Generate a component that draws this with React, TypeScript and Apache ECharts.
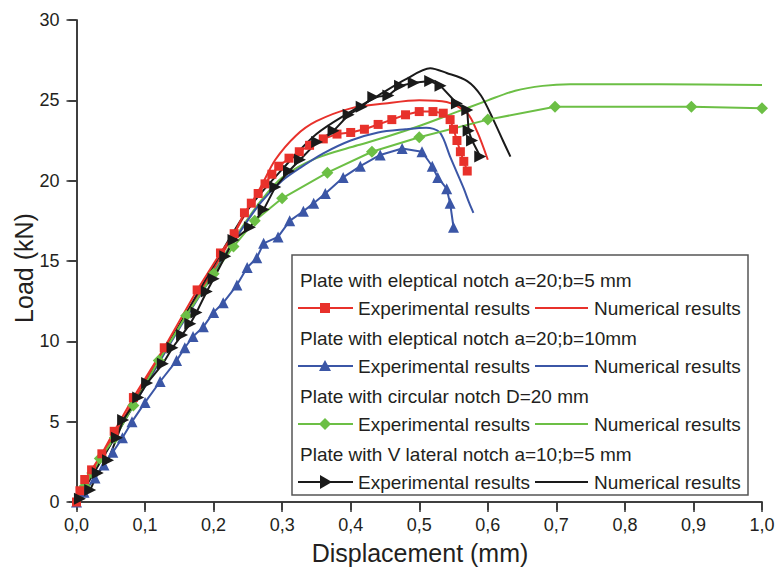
import { useEffect, useRef } from "react";
import * as echarts from "echarts";

const FONT = "'Liberation Sans', Arial, sans-serif";

const RED = "#e8312b";
const BLUE = "#3b56a6";
const GREEN = "#6cbf45";
const BLACK = "#1a1a1a";

// Plate with eleptical notch a=20;b=5 mm
const redExp: [number, number][] = [
  [0, 0], [0.005, 0.7], [0.012, 1.4], [0.022, 2.0], [0.037, 3.0], [0.055, 4.4], [0.083, 6.5],
  [0.128, 9.6], [0.176, 13.2], [0.21, 15.5], [0.23, 16.7], [0.245, 18.0], [0.255, 18.6],
  [0.265, 19.2], [0.275, 19.8], [0.285, 20.4], [0.295, 20.9], [0.31, 21.4], [0.325, 21.8],
  [0.34, 22.2], [0.36, 22.6], [0.38, 22.9], [0.4, 23.0], [0.42, 23.2], [0.44, 23.5],
  [0.46, 23.8], [0.48, 24.1], [0.5, 24.3], [0.52, 24.3], [0.535, 24.2], [0.545, 23.8],
  [0.55, 23.2], [0.555, 22.5], [0.56, 21.8], [0.565, 21.2], [0.57, 20.6],
];
const redNum: [number, number][] = [
  [0, 0], [0.05, 3.8], [0.1, 7.5], [0.15, 11.0], [0.2, 14.5], [0.25, 18.2], [0.27, 19.7],
  [0.29, 21.3], [0.32, 22.8], [0.35, 23.7], [0.4, 24.5], [0.45, 24.8], [0.5, 25.0],
  [0.54, 24.9], [0.57, 24.2], [0.585, 23.0], [0.6, 21.3],
];

// Plate with eleptical notch a=20;b=10mm
const blueExp: [number, number][] = [
  [0, 0], [0.011, 0.6], [0.027, 1.5], [0.04, 2.3], [0.053, 3.1], [0.067, 4.0], [0.081, 5.0],
  [0.1, 6.2], [0.122, 7.5], [0.146, 8.8], [0.158, 9.6], [0.17, 10.3], [0.185, 10.9],
  [0.2, 11.8], [0.214, 12.4], [0.234, 13.5], [0.249, 14.6], [0.263, 15.2], [0.273, 16.1],
  [0.294, 16.5], [0.311, 17.5], [0.331, 18.1], [0.346, 18.6], [0.363, 19.2], [0.389, 20.2],
  [0.414, 20.9], [0.443, 21.6], [0.475, 22.0], [0.504, 21.8], [0.519, 20.9], [0.527, 20.2],
  [0.54, 19.5], [0.545, 18.6], [0.55, 17.1],
];
const blueNum: [number, number][] = [
  [0, 0], [0.05, 3.6], [0.1, 7.2], [0.15, 10.8], [0.2, 14.2], [0.24, 16.9], [0.27, 18.7],
  [0.3, 20.0], [0.33, 20.9], [0.36, 21.7], [0.4, 22.5], [0.44, 23.0], [0.48, 23.2],
  [0.51, 23.3], [0.53, 23.0], [0.545, 21.5], [0.555, 20.5], [0.565, 19.5], [0.573, 18.6],
  [0.579, 18.0],
];

// Plate with circular notch D=20 mm
const greenExp: [number, number][] = [
  [0.005, 0.4], [0.012, 1.0], [0.023, 1.8], [0.034, 2.7], [0.056, 4.0], [0.083, 6.0],
  [0.12, 8.8], [0.16, 11.6], [0.2, 14.2], [0.229, 15.9], [0.26, 17.5], [0.3, 18.9],
  [0.366, 20.5], [0.431, 21.8], [0.5, 22.7], [0.6, 23.8], [0.698, 24.6], [0.897, 24.6],
  [1.0, 24.5],
];
const greenNum: [number, number][] = [
  [0, 0], [0.05, 3.8], [0.1, 7.3], [0.15, 10.9], [0.2, 14.3], [0.24, 17.0], [0.27, 18.8],
  [0.3, 20.2], [0.35, 21.4], [0.41, 22.2], [0.45, 22.7], [0.5, 23.4], [0.55, 24.2],
  [0.6, 25.0], [0.64, 25.6], [0.68, 25.9], [0.72, 26.0], [0.85, 26.0], [1.0, 25.95],
];

// Plate with V lateral notch a=10;b=5 mm
const blackExp: [number, number][] = [
  [0.005, 0.2], [0.02, 0.75], [0.031, 1.8], [0.046, 2.6], [0.059, 4.0], [0.068, 5.1],
  [0.09, 6.5], [0.103, 7.4], [0.126, 8.6], [0.14, 9.6], [0.154, 10.4], [0.166, 11.1],
  [0.175, 11.8], [0.19, 13.1], [0.2, 13.9], [0.217, 15.3], [0.229, 16.3], [0.253, 17.1],
  [0.273, 18.2], [0.29, 19.6], [0.31, 20.6], [0.326, 21.3], [0.351, 22.4], [0.375, 23.1],
  [0.397, 24.1], [0.416, 24.6], [0.433, 25.2], [0.455, 25.3], [0.472, 25.9], [0.492, 26.1],
  [0.516, 26.2], [0.531, 25.9], [0.555, 24.8], [0.57, 24.4], [0.572, 23.1], [0.577, 22.5],
  [0.589, 21.5],
];
const blackNum: [number, number][] = [
  [0, 0], [0.05, 3.6], [0.1, 7.3], [0.15, 11.0], [0.2, 14.7], [0.25, 18.2], [0.3, 20.7],
  [0.35, 22.9], [0.4, 24.3], [0.44, 25.3], [0.48, 26.3], [0.516, 27.0], [0.54, 26.7],
  [0.57, 26.2], [0.59, 25.3], [0.608, 23.8], [0.622, 22.5], [0.633, 21.5],
];

const groupTitles = [
  "Plate with eleptical notch a=20;b=5 mm",
  "Plate with eleptical notch a=20;b=10mm",
  "Plate with circular notch D=20 mm",
  "Plate with V lateral notch a=10;b=5 mm",
];
const entryLabels = ["Experimental results", "Numerical results"];
const groupColors = [RED, BLUE, GREEN, BLACK];
const groupMarkers = ["square", "triangle", "diamond", "arrowRight"];

const xLabel = "Displacement (mm)";
const yLabel = "Load (kN)";

function markerGraphic(kind: string, cx: number, cy: number, color: string) {
  const style = { fill: color };
  if (kind === "square") {
    return { type: "rect", shape: { x: cx - 5, y: cy - 5, width: 10, height: 10 }, style };
  }
  if (kind === "triangle") {
    return { type: "polygon", shape: { points: [[cx, cy - 6], [cx + 6, cy + 5], [cx - 6, cy + 5]] }, style };
  }
  if (kind === "diamond") {
    return { type: "polygon", shape: { points: [[cx, cy - 6], [cx + 6, cy], [cx, cy + 6], [cx - 6, cy]] }, style };
  }
  return { type: "polygon", shape: { points: [[cx - 5, cy - 7], [cx + 7, cy], [cx - 5, cy + 7]] }, style };
}

function buildGraphics() {
  const children: any[] = [];
  const left = 292;
  const top = 255;
  const textFont = `19px ${FONT}`;
  children.push({
    type: "rect",
    shape: { x: left, y: top, width: 456, height: 240 },
    style: { fill: "#fff", stroke: "#555", lineWidth: 1.5 },
  });
  groupTitles.forEach((title, i) => {
    const hy = 280 + i * 58;
    const ey = hy + 28;
    const color = groupColors[i];
    children.push({
      type: "text",
      style: { text: title, x: 300, y: hy, font: textFont, fill: "#231f20", verticalAlign: "middle" },
    });
    children.push({
      type: "line",
      shape: { x1: 298, y1: ey, x2: 353, y2: ey },
      style: { stroke: color, lineWidth: 2 },
    });
    children.push(markerGraphic(groupMarkers[i], 325, ey, color));
    children.push({
      type: "text",
      style: { text: entryLabels[0], x: 358, y: ey, font: textFont, fill: "#231f20", verticalAlign: "middle" },
    });
    children.push({
      type: "line",
      shape: { x1: 535, y1: ey, x2: 588, y2: ey },
      style: { stroke: color, lineWidth: 2 },
    });
    children.push({
      type: "text",
      style: { text: entryLabels[1], x: 594, y: ey, font: textFont, fill: "#231f20", verticalAlign: "middle" },
    });
  });
  return [
    { type: "group", z: 100, children },
    {
      type: "text",
      z: 100,
      style: { text: xLabel, x: 420, y: 553, font: `25px ${FONT}`, fill: "#231f20", align: "center", verticalAlign: "middle" },
    },
    {
      type: "text",
      z: 100,
      x: 24,
      y: 268,
      rotation: Math.PI / 2,
      style: { text: yLabel, x: 0, y: 0, font: `25px ${FONT}`, fill: "#231f20", align: "center", verticalAlign: "middle" },
    },
  ];
}

function expSeries(name: string, data: [number, number][], color: string, symbol: string, size: number, rotate = 0) {
  return {
    name,
    type: "line",
    data,
    xAxisIndex: 0,
    yAxisIndex: 0,
    symbol,
    symbolSize: size,
    symbolRotate: rotate,
    showSymbol: true,
    lineStyle: { color, width: 2 },
    itemStyle: { color },
    z: 5,
  };
}

function numSeries(name: string, data: [number, number][], color: string) {
  return {
    name,
    type: "line",
    data,
    xAxisIndex: 0,
    yAxisIndex: 0,
    symbol: "none",
    smooth: 0.3,
    lineStyle: { color, width: 2 },
    z: 4,
  };
}

export default function App() {
  const ref = useRef<HTMLDivElement>(null);
  useEffect(() => {
    if (!ref.current) return;
    const chart = echarts.init(ref.current, null, { renderer: "svg" });
    const axisLine = { show: true, lineStyle: { color: "#333", width: 1.5 } };
    const tickStyle = { color: "#333", width: 1.5 };
    chart.setOption({
      animation: false,
      backgroundColor: "#fff",
      grid: { left: 76.5, right: 16, top: 20, bottom: 65, containLabel: false },
      xAxis: [
        {
          type: "value",
          min: 0,
          max: 1,
          interval: 0.1,
          position: "bottom",
          axisLine,
          axisTick: { show: true, inside: false, length: 10, lineStyle: tickStyle },
          splitLine: { show: false },
          axisLabel: {
            fontSize: 18,
            fontFamily: FONT,
            color: "#231f20",
            margin: 14,
            formatter: (v: number) => v.toFixed(1).replace(".", ","),
          },
        },
        {
          type: "value",
          min: 0,
          max: 1,
          interval: 0.1,
          position: "top",
          axisLine,
          axisTick: { show: true, inside: true, length: 8, lineStyle: tickStyle },
          axisLabel: { show: false },
          splitLine: { show: false },
        },
      ],
      yAxis: [
        {
          type: "value",
          min: 0,
          max: 30,
          interval: 5,
          position: "left",
          axisLine,
          axisTick: { show: true, inside: false, length: 10, lineStyle: tickStyle },
          splitLine: { show: false },
          axisLabel: { fontSize: 18, fontFamily: FONT, color: "#231f20", margin: 17 },
        },
        {
          type: "value",
          min: 0,
          max: 30,
          interval: 5,
          position: "right",
          axisLine,
          axisTick: { show: true, inside: true, length: 8, lineStyle: tickStyle },
          axisLabel: { show: false },
          splitLine: { show: false },
        },
      ],
      series: [
        numSeries("green-num", greenNum, GREEN),
        expSeries("green-exp", greenExp, GREEN, "diamond", 12),
        numSeries("blue-num", blueNum, BLUE),
        expSeries("blue-exp", blueExp, BLUE, "triangle", 11),
        numSeries("red-num", redNum, RED),
        expSeries("red-exp", redExp, RED, "rect", 9),
        numSeries("black-num", blackNum, BLACK),
        expSeries("black-exp", blackExp, BLACK, "triangle", 12, -90),
      ],
      graphic: buildGraphics(),
    });
    return () => chart.dispose();
  }, []);
  return <div ref={ref} style={{ position: "fixed", left: 0, top: 0, width: 778, height: 567 }} />;
}
